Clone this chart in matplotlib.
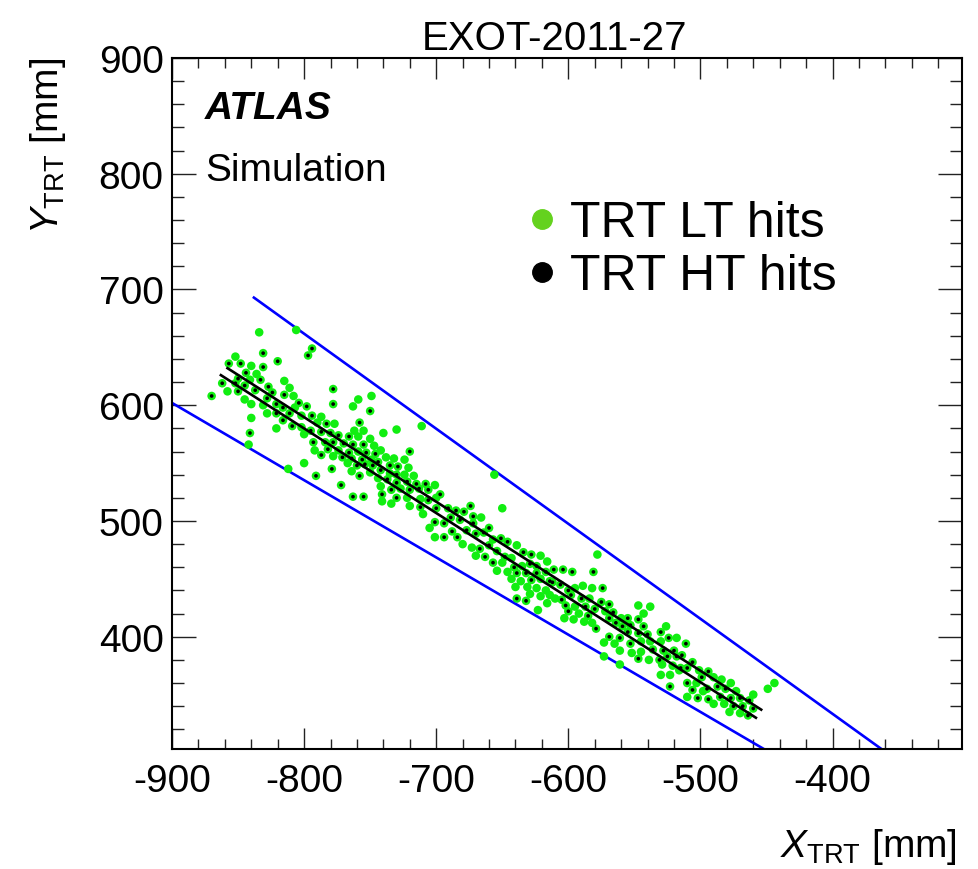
import numpy as np
import matplotlib
matplotlib.use("Agg")
import matplotlib.pyplot as plt
from matplotlib.ticker import MultipleLocator
from matplotlib.lines import Line2D

plt.rcParams["font.family"] = ["Liberation Sans", "DejaVu Sans"]
plt.rcParams["mathtext.fontset"] = "custom"
plt.rcParams["mathtext.rm"] = "Liberation Sans"
plt.rcParams["mathtext.it"] = "Liberation Sans:italic"
plt.rcParams["axes.unicode_minus"] = False

# axis ranges [mm]
x_range = (-900, -302)
y_range = (303, 900)

# road edges, both pass through the origin
road_lo = [(-900, 602), (-452, 303)]
road_hi = [(-838, 693), (-363, 303)]
# fitted track, drawn as two parallel edges
track_a = [(-858, 632), (-454, 337)]
track_b = [(-863, 626), (-458, 330)]

# low-threshold only hits (x, y) [mm]
lt_hits = [
    (-834, 663), (-806, 665), (-852, 642), (-840, 634), (-836, 627), (-841, 622), (-815, 621), (-858, 612),
    (-811, 615), (-845, 605), (-840, 601), (-831, 600), (-808, 608), (-828, 593), (-807, 598), (-802, 591),
    (-802, 581), (-800, 575), (-840, 589), (-821, 580), (-842, 566), (-800, 550), (-812, 545),
    (-759, 605), (-749, 608), (-763, 599), (-787, 590), (-790, 585), (-777, 584), (-740, 576), (-730, 579),
    (-711, 582), (-762, 578), (-755, 578), (-759, 573), (-750, 571), (-747, 565), (-792, 561), (-774, 561),
    (-759, 560), (-742, 561), (-778, 556), (-749, 553), (-738, 555), (-732, 554), (-724, 553), (-767, 550),
    (-721, 546), (-764, 543), (-750, 542), (-735, 541), (-724, 540), (-717, 539), (-744, 537), (-742, 530),
    (-727, 528), (-701, 531), (-722, 520), (-712, 519), (-700, 520), (-741, 517), (-734, 515), (-720, 513),
    (-710, 506),
    (-656, 540), (-650, 511), (-666, 503), (-705, 494), (-701, 486), (-680, 480), (-673, 477), (-657, 484),
    (-639, 479), (-670, 470), (-650, 464), (-621, 470), (-643, 468), (-654, 457), (-646, 456), (-635, 461),
    (-616, 465), (-643, 450), (-636, 448), (-621, 450), (-640, 443), (-631, 443), (-624, 442), (-617, 440),
    (-629, 437), (-621, 435), (-614, 436), (-623, 423), (-616, 429),
    (-578, 471), (-595, 442), (-589, 444), (-582, 442), (-610, 433), (-584, 433), (-595, 426), (-572, 422),
    (-547, 427), (-538, 426), (-603, 416), (-596, 415), (-592, 420), (-588, 413), (-582, 412), (-560, 416),
    (-543, 420), (-526, 409), (-573, 395), (-565, 394), (-545, 396), (-538, 396), (-530, 396), (-518, 399),
    (-561, 388), (-552, 386), (-545, 387), (-573, 383), (-561, 376), (-539, 380), (-530, 367), (-523, 367),
    (-516, 371), (-529, 376), (-521, 375),
    (-501, 371), (-503, 360), (-490, 365), (-484, 363), (-477, 360), (-473, 353), (-498, 353), (-510, 348),
    (-460, 350), (-490, 342), (-482, 342), (-478, 335), (-470, 334), (-449, 355), (-444, 360),
]

# high-threshold hits (x, y) [mm]
ht_hits = [
    (-831, 645), (-794, 649), (-797, 643), (-857, 636), (-848, 636), (-831, 633), (-820, 638), (-844, 628),
    (-862, 619), (-852, 619), (-850, 623), (-833, 622), (-827, 616), (-845, 617), (-850, 612), (-837, 613),
    (-824, 611), (-870, 608), (-828, 606), (-821, 601), (-815, 609), (-804, 602), (-816, 598), (-821, 593),
    (-811, 593), (-798, 599), (-816, 587), (-809, 582), (-841, 576),
    (-778, 614), (-778, 601), (-750, 595), (-794, 591), (-783, 584), (-758, 585), (-795, 578), (-787, 577),
    (-780, 576), (-774, 574), (-766, 573), (-793, 568), (-784, 568), (-778, 568), (-770, 567), (-763, 566),
    (-755, 566), (-782, 562), (-766, 559), (-753, 559), (-746, 558), (-720, 560), (-787, 557), (-771, 555),
    (-764, 554), (-756, 553), (-744, 551), (-760, 548), (-754, 549), (-748, 548), (-735, 548), (-729, 547),
    (-779, 545), (-758, 539), (-742, 544), (-730, 540), (-791, 539), (-737, 536), (-730, 533), (-722, 534),
    (-715, 532), (-708, 532), (-734, 527), (-720, 527), (-713, 528), (-706, 527), (-772, 531), (-741, 523),
    (-730, 520), (-763, 521), (-755, 521), (-706, 518), (-712, 512), (-700, 511),
    (-697, 523), (-691, 511), (-685, 509), (-679, 508), (-674, 513), (-672, 504), (-701, 499), (-694, 498),
    (-689, 503), (-682, 501), (-688, 491), (-677, 492), (-672, 498), (-660, 494), (-664, 490), (-670, 489),
    (-694, 486), (-684, 486), (-667, 476), (-660, 479), (-651, 485), (-646, 482), (-654, 474), (-663, 469),
    (-648, 469), (-657, 464), (-634, 473), (-628, 471), (-641, 460), (-629, 463), (-624, 461), (-639, 455),
    (-632, 455), (-624, 455), (-617, 456), (-628, 449), (-614, 448), (-639, 433), (-632, 431),
    (-581, 456), (-611, 458), (-604, 458), (-597, 456), (-612, 447), (-606, 445), (-600, 440), (-574, 442),
    (-605, 432), (-598, 436), (-590, 433), (-575, 430), (-569, 428), (-602, 427), (-587, 426), (-580, 424),
    (-566, 421), (-600, 422), (-585, 418), (-579, 407), (-569, 416), (-555, 416), (-547, 415), (-564, 412),
    (-559, 409), (-553, 410), (-543, 409), (-555, 404), (-547, 403), (-540, 402), (-530, 404), (-569, 400),
    (-561, 399), (-553, 394), (-524, 399), (-536, 389), (-528, 388), (-520, 388), (-547, 381), (-531, 380),
    (-525, 383), (-518, 383), (-523, 357),
    (-511, 394), (-514, 384), (-506, 378), (-515, 373), (-510, 373), (-494, 370), (-499, 365), (-510, 360),
    (-487, 357), (-481, 355), (-495, 355), (-506, 354), (-502, 347), (-494, 346), (-485, 348), (-477, 347),
    (-470, 347), (-463, 345), (-475, 340), (-468, 340), (-460, 338), (-464, 332),
]

lt = np.array(lt_hits, dtype=float)
ht = np.array(ht_hits, dtype=float)

W, H = 979, 870
fig = plt.figure(figsize=(W / 100, H / 100), dpi=100)
ax = fig.add_axes([172 / W, 1 - 750 / H, (962 - 172) / W, (750 - 59) / H])

green = "#11ee11"
# every HT hit is also above the low threshold, so it gets a green disc too
ax.scatter(lt[:, 0], lt[:, 1], s=38, color=green, edgecolors="none", zorder=3)
ax.scatter(ht[:, 0], ht[:, 1], s=38, color=green, edgecolors="none", zorder=3)
ax.scatter(ht[:, 0], ht[:, 1], s=7, color="black", edgecolors="none", zorder=4)

for seg in (road_lo, road_hi):
    xs, ys = zip(*seg)
    ax.plot(xs, ys, color="#0000ff", lw=1.9, zorder=2)
for seg in (track_a, track_b):
    xs, ys = zip(*seg)
    ax.plot(xs, ys, color="black", lw=1.9, zorder=5)

ax.set_xlim(*x_range)
ax.set_ylim(*y_range)
ax.xaxis.set_major_locator(MultipleLocator(100))
ax.xaxis.set_minor_locator(MultipleLocator(20))
ax.yaxis.set_major_locator(MultipleLocator(100))
ax.yaxis.set_minor_locator(MultipleLocator(20))
ax.tick_params(axis="both", which="both", direction="in", top=True, right=True,
               labelsize=28, width=1.0, color="#222222")
ax.tick_params(axis="x", which="major", length=15, pad=10)
ax.tick_params(axis="x", which="minor", length=7)
ax.tick_params(axis="y", which="major", length=17, pad=6)
ax.tick_params(axis="y", which="minor", length=8.5)
for sp in ax.spines.values():
    sp.set_linewidth(1.5)

# axis titles, ROOT style: aligned to the far end of each axis
fig.text(957 / W, 1 - 857 / H, r"$X_{\mathrm{TRT}}$ [mm]", fontsize=28,
         ha="right", va="baseline")
fig.text(48 / W, 1 - 58 / H, r"$Y_{\mathrm{TRT}}$ [mm]", fontsize=28,
         ha="center", va="top", rotation=90)

fig.text(555 / W, 1 - 50 / H, "EXOT-2011-27", fontsize=29, ha="center", va="baseline")
fig.text(205 / W, 1 - 119 / H, "ATLAS", fontsize=28, weight="bold", style="italic",
         va="baseline")
fig.text(205 / W, 1 - 181 / H, "Simulation", fontsize=28, va="baseline")

# legend
for yb, col, lab in ((237, "#64d21e", "TRT LT hits"), (290, "black", "TRT HT hits")):
    fig.add_artist(Line2D([542 / W], [1 - (yb - 17) / H], marker="o", markersize=14,
                          color=col, transform=fig.transFigure))
    fig.text(570 / W, 1 - yb / H, lab, fontsize=36, va="baseline")

fig.savefig("out.png", dpi=100)
